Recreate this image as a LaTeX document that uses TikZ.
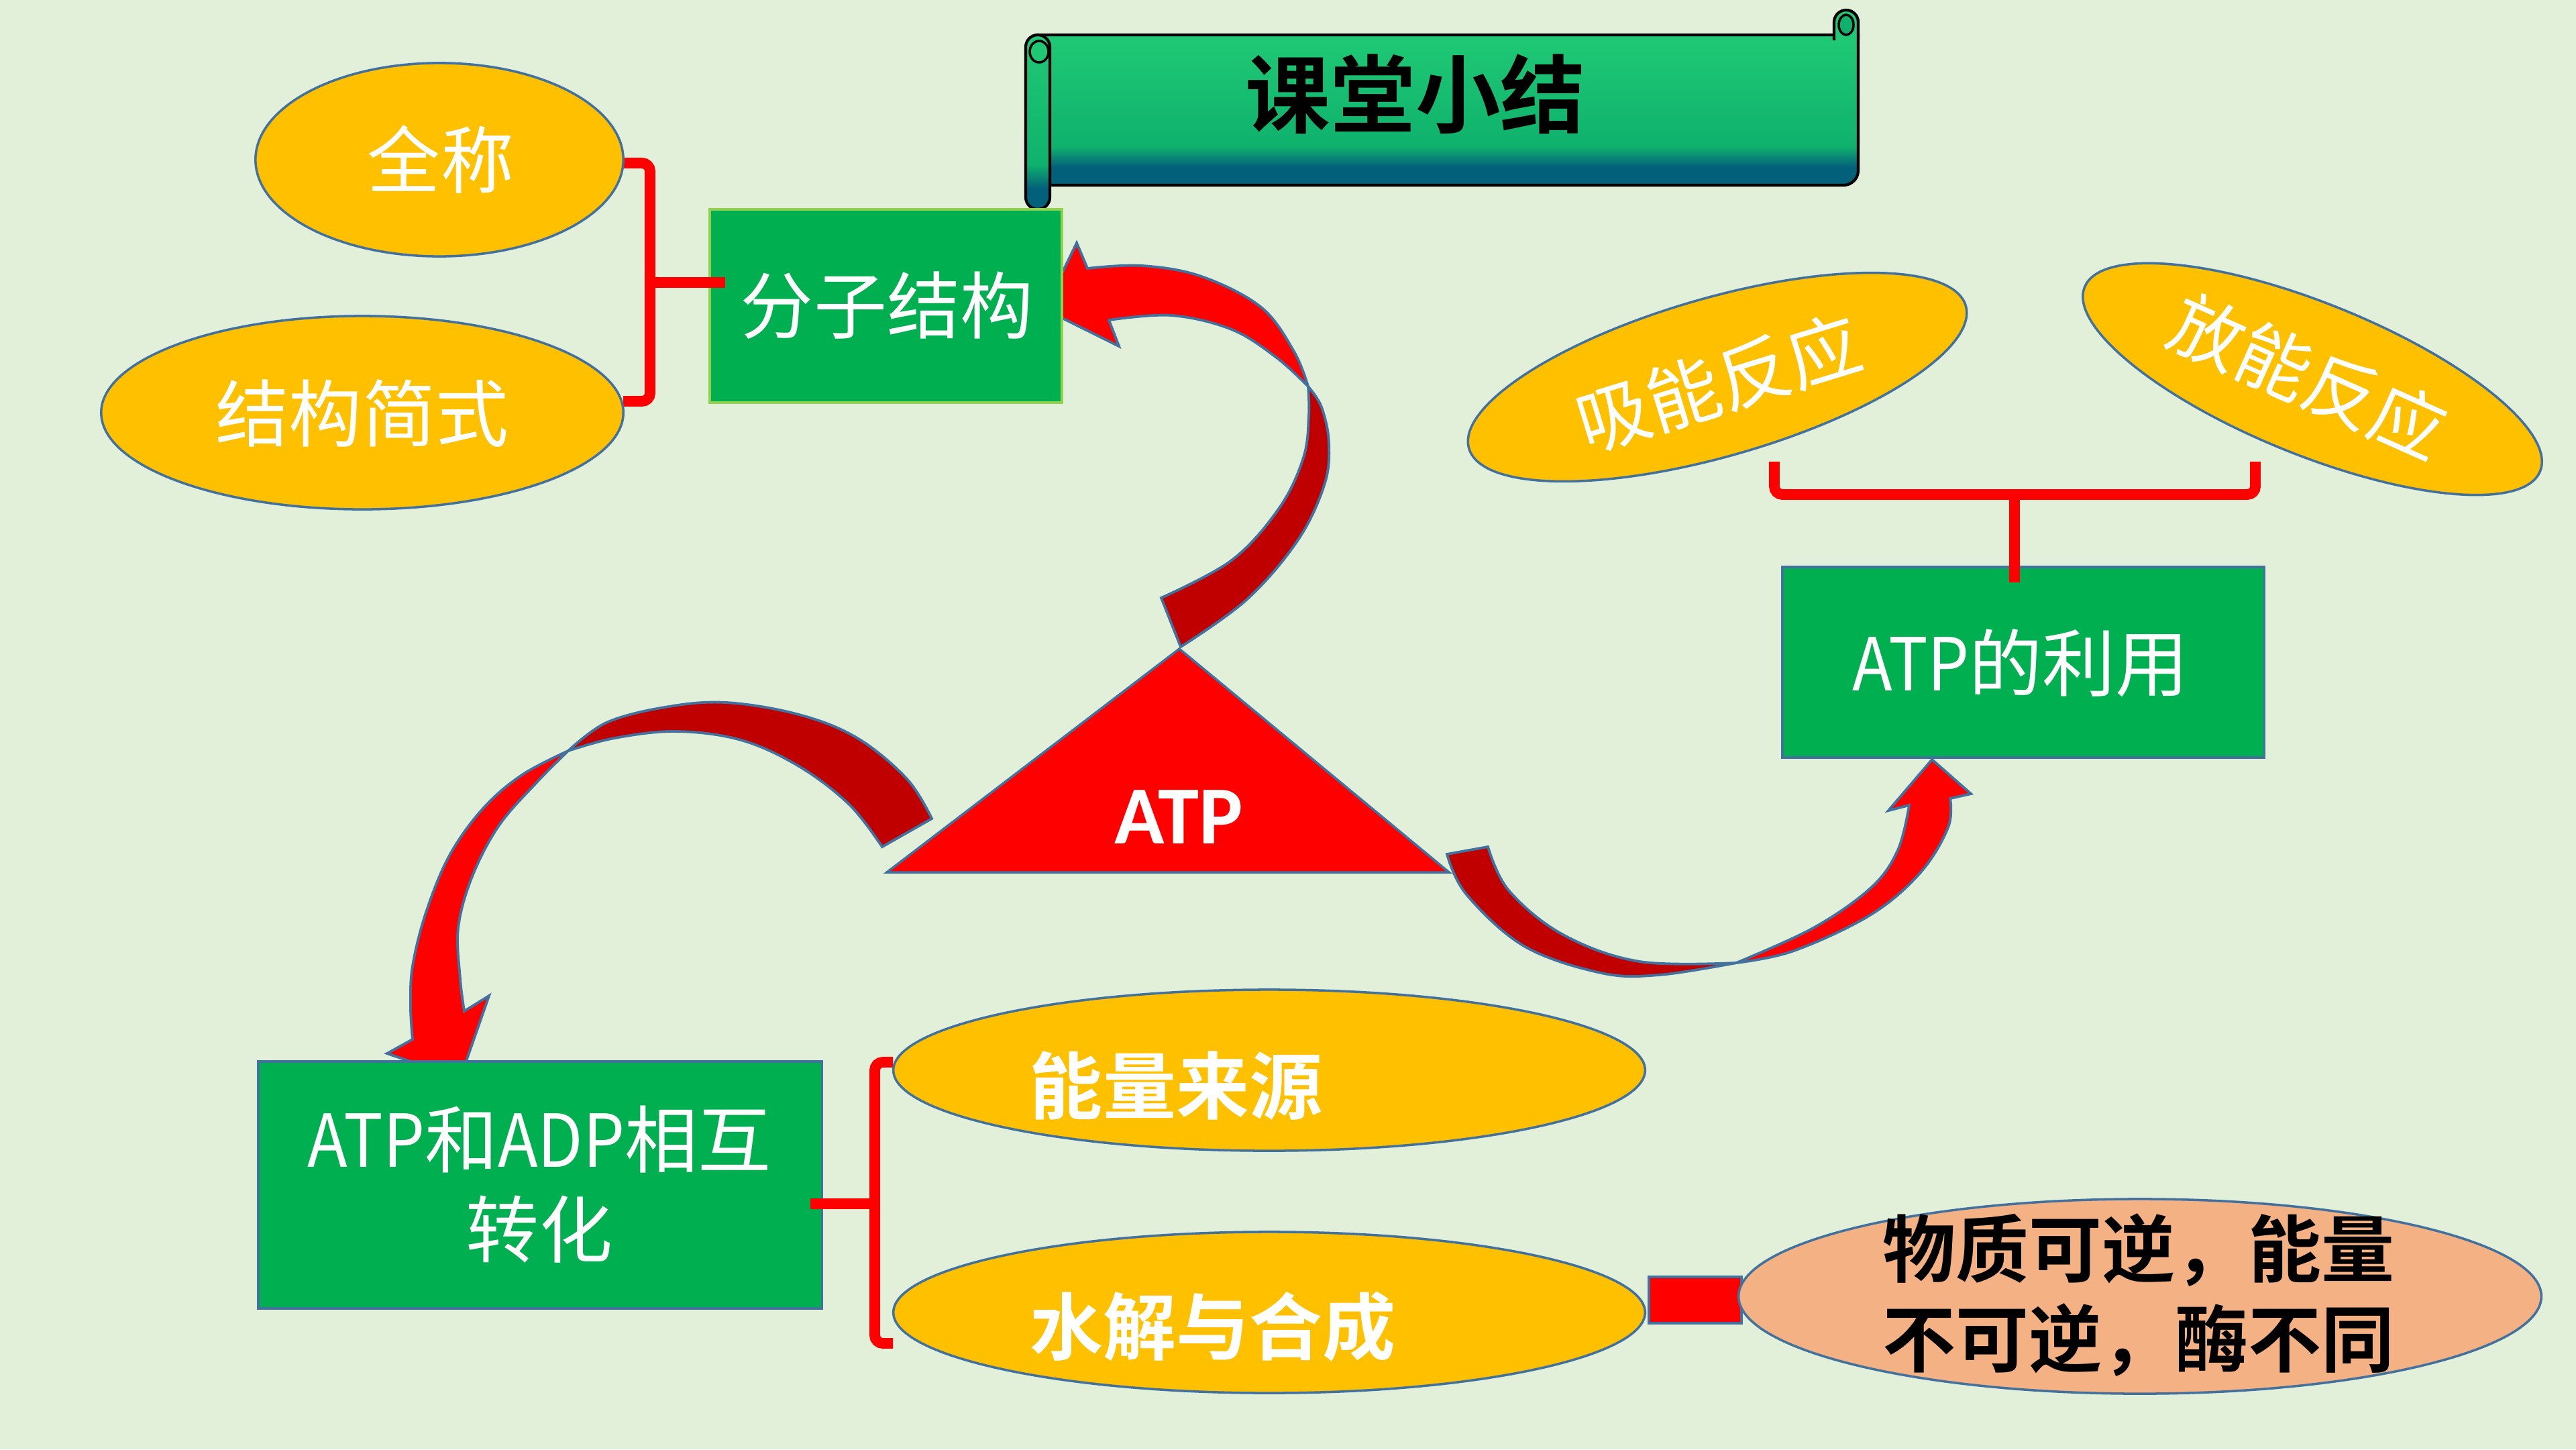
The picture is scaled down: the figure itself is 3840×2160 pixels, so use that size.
\documentclass[tikz,border=0pt]{standalone}
\usepackage{fontspec}
\newfontfamily\cjk{Noto Sans CJK SC}
\newfontfamily\cjkb{Noto Sans CJK SC Bold}
\newfontfamily\carl{Carlito}
\usetikzlibrary{shapes.geometric}
\definecolor{bgc}{HTML}{E2F0D9}
\definecolor{boxgreen}{HTML}{00B050}
\definecolor{boxrim}{HTML}{92D050}
\definecolor{ovalgold}{HTML}{FFC000}
\definecolor{ovalsalmon}{HTML}{F4B183}
\definecolor{edgeblue}{HTML}{41719C}
\definecolor{ribdark}{HTML}{C00000}
\definecolor{scG}{HTML}{1FC974}
\definecolor{scM}{HTML}{0FB26D}
\definecolor{scT}{HTML}{03607A}
\pgfdeclareverticalshading{scrollsh}{100bp}{color(0bp)=(scT); color(25bp)=(scT); color(31bp)=(scT); color(38bp)=(scM); color(75bp)=(scG); color(100bp)=(scG)}
\newcommand{\narrowlat}[1]{\scalebox{0.9}[1]{#1}}
\tikzset{
  oval/.style={ellipse, draw=edgeblue, line width=1pt, fill=ovalgold, inner sep=0pt},
  greenbox/.style={rectangle, fill=boxgreen, draw=edgeblue, line width=1pt, inner sep=0pt},
  brk/.style={draw=red, line width=4.5pt, rounded corners=0.12cm},
  ribbon/.style={draw=edgeblue, line width=1.1pt},
  wtxt/.style={text=white, font=\cjk\fontsize{31}{38}\selectfont, align=center, inner sep=0pt},
  wbtxt/.style={text=white, font=\cjkb\fontsize{31}{38}\selectfont, align=center, inner sep=0pt},
  scrollline/.style={draw=black, line width=1.2pt},
}
\begin{document}
\begin{tikzpicture}[x=0.01cm, y=-0.01cm]
\useasboundingbox (0,0) rectangle (3840,2160);
\fill[bgc] (0,0) rectangle (3840,2160);

% ---------- title scroll ----------
\shade[shading=scrollsh, scrollline] (1547,52) -- (2770,52) [rounded corners=0.22cm] -- (2770,276) -- (1547,276) [sharp corners] -- cycle;
\filldraw[fill=scG, scrollline] (2734,60) -- (2734,33) arc[start angle=180, end angle=360, radius=18] -- (2770,60);
\filldraw[fill=scM, draw=black, line width=1pt] (2752,37) ellipse [x radius=11, y radius=15];
\shade[shading=scrollsh, scrollline] (1529,70) arc[start angle=180, end angle=360, radius=18] -- (1565,294) arc[start angle=0, end angle=180, radius=18] -- cycle;
\filldraw[fill=scG, draw=black, line width=1pt] (1549,77) ellipse [x radius=14, y radius=16];
\node[font=\cjkb\fontsize{36}{40}\selectfont, text=black, inner sep=0pt] (title) at (2110,140) {课堂小结};

% ---------- ATP triangle ----------
\coordinate (tA) at (1758,967);
\coordinate (tR) at (2160,1300);
\coordinate (tL) at (1322,1300);
\filldraw[fill=red, draw=edgeblue, line width=1pt] (tA) -- (tR) -- (tL) -- cycle;

% ---------- ribbon arrow: ATP -> 分子结构 ----------
\filldraw[ribbon, fill=ribdark] plot[smooth, tension=0.6] coordinates {(1731,891) (1836,835) (1907,757) (1943,682) (1951,620) (1950,576)}
  -- plot[smooth, tension=0.6] coordinates {(1950,576) (1970,607) (1981,661) (1974,723) (1934,806) (1858,894) (1760,964)} -- cycle;
\filldraw[ribbon, fill=red] plot[smooth, tension=0.6] coordinates {(1950,576) (1929,524) (1880,458) (1791,412) (1702,396) (1621,400)}
  -- (1605,362) -- (1557,461) -- (1668,516) -- (1653,477)
  -- plot[smooth, tension=0.6] coordinates {(1653,477) (1746,470) (1836,491) (1903,533) (1950,576)} -- cycle;

% ---------- ribbon arrow: ATP -> ATP和ADP ----------
\filldraw[ribbon, fill=ribdark] plot[smooth, tension=0.6] coordinates {(1389,1220) (1352,1161) (1278,1100) (1191,1065) (1082,1047) (991,1054) (904,1077) (847,1119)}
  -- plot[smooth, tension=0.6] coordinates {(847,1119) (916,1100) (1008,1090) (1105,1103) (1191,1142) (1266,1199) (1315,1262)} -- cycle;
\filldraw[ribbon, fill=red] plot[smooth, tension=0.6] coordinates {(847,1119) (778,1155) (720,1205) (670,1275) (635,1360) (615,1440) (612,1500) (615,1549)}
  -- (577,1570) -- (686,1607) -- (729,1484) -- (692,1507)
  -- plot[smooth, tension=0.6] coordinates {(692,1507) (686,1459) (683,1383) (704,1306) (744,1230) (801,1165) (847,1119)} -- cycle;

% ---------- ribbon arrow: ATP -> ATP的利用 ----------
\filldraw[ribbon, fill=ribdark] plot[smooth, tension=0.6] coordinates {(2157,1273) (2186,1333) (2272,1410) (2387,1450) (2473,1453) (2588,1435)}
  -- plot[smooth, tension=0.6] coordinates {(2588,1435) (2444,1433) (2330,1393) (2249,1327) (2218,1262)} -- cycle;
\filldraw[ribbon, fill=red] plot[smooth, tension=0.6] coordinates {(2588,1435) (2674,1417) (2789,1363) (2863,1300) (2904,1233) (2907,1190)}
  -- (2938,1183) -- (2880,1132) -- (2815,1208) -- (2846,1200)
  -- plot[smooth, tension=0.6] coordinates {(2846,1200) (2829,1267) (2789,1323) (2703,1383) (2588,1435)} -- cycle;

% ---------- boxes ----------
\node[greenbox, draw=boxrim, minimum width=5.25cm, minimum height=2.88cm] (fz) at (1320.5,456) {};
\node[greenbox, minimum width=7.18cm, minimum height=2.84cm] (use) at (3016,987) {};
\node[greenbox, minimum width=8.40cm, minimum height=3.68cm] (zh) at (805,1766) {};

% ---------- brackets ----------
\draw[brk] (929,243) -| (969,598) -- (929,598);
\draw[brk, rounded corners=0pt] (969,421) -- (1081,421);
\draw[brk] (2645,688) |- (3362,737) -- (3362,688);
\draw[brk, rounded corners=0pt] (3003,737) -- (3003,868);
\draw[brk] (1331,1583) -| (1304,2002) -- (1331,2002);
\draw[brk, rounded corners=0pt] (1304,1794) -- (1208,1794);

% ---------- ellipses ----------
\node[oval, minimum width=5.48cm, minimum height=2.88cm] (qc) at (655,238) {};
\node[oval, minimum width=7.78cm, minimum height=2.88cm] (jg) at (540,615) {};
\node[oval, rotate=16, minimum width=7.70cm, minimum height=2.36cm] (xn) at (2560,562) {};
\node[oval, rotate=-22, minimum width=7.32cm, minimum height=2.26cm] (fn) at (3447,565) {};
\node[oval, minimum width=11.2cm, minimum height=2.40cm] (nl) at (1892,1595) {};
\node[oval, minimum width=11.2cm, minimum height=2.40cm] (sj) at (1892,1956) {};
\node[rectangle, fill=red, draw=edgeblue, line width=1pt, minimum width=1.38cm, minimum height=0.69cm, inner sep=0pt] (lnk) at (2527,1937.5) {};
\node[oval, fill=ovalsalmon, minimum width=11.96cm, minimum height=2.90cm] (wz) at (3190,1932) {};

% ---------- texts ----------
\node[wtxt] (tqc) at (657,238) {全称};
\node[wtxt] (tjg) at (540,616) {结构简式};
\node[wtxt] (tfz) at (1322,455) {分子结构};
\node[text=white, font=\carl\bfseries\fontsize{35}{40}\selectfont, inner sep=0pt] (tatp) at (1757,1218) {ATP};
\node[wtxt] (tuse) at (3012,988) {\narrowlat{ATP}的利用};
\node[wtxt, rotate=17] (txn) at (2562,571) {吸能反应};
\node[wtxt, rotate=-24] (tfn) at (3441,561) {放能反应};
\node[wtxt] (tzh) at (804,1765) {\narrowlat{ATP}和\narrowlat{ADP}相互\\转化};
\node[wbtxt] (tnl) at (1753,1618) {能量来源};
\node[wbtxt] (tsj) at (1808,1977) {水解与合成};
\node[wbtxt, text=black] (twz) at (3188,1930) {物质可逆，能量\\不可逆，酶不同};
\end{tikzpicture}
\end{document}
